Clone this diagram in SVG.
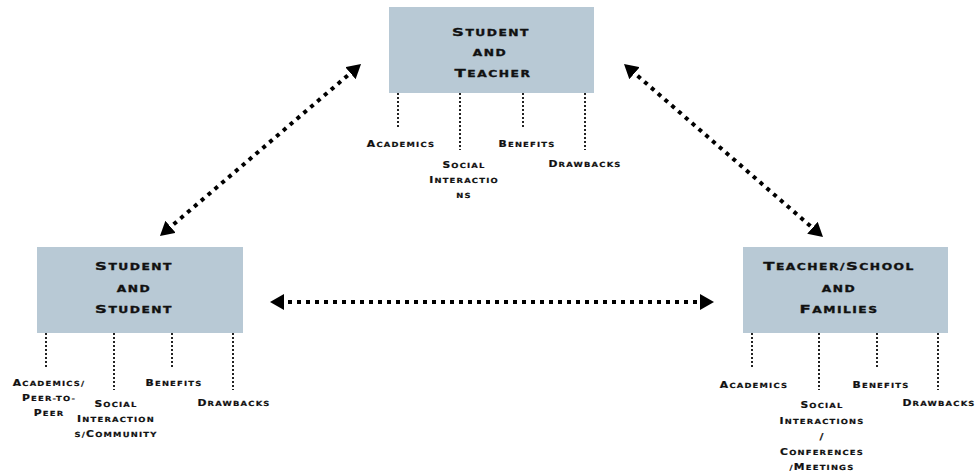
<svg xmlns="http://www.w3.org/2000/svg" width="976" height="471" viewBox="0 0 976 471">
  <defs>
    <marker id="head" viewBox="0 0 14 16" refX="5" refY="8" markerWidth="14" markerHeight="16" markerUnits="userSpaceOnUse" orient="auto-start-reverse">
      <path d="M0,0 L14,8 L0,16 z" fill="#000"/>
    </marker>
    <style>
      .box { fill: #b8c9d5; }
      .title, .label { font-family: "DejaVu Sans", "Liberation Sans", sans-serif; font-weight: bold; fill: #111; stroke: #111; text-anchor: middle; letter-spacing: 1px; }
      .title { font-size: 11px; stroke-width: 0.3px; }
      .title .s { font-size: 8.2px; text-transform: uppercase; }
      .label { font-size: 9px; stroke-width: 0.2px; }
      .label .s { font-size: 7px; text-transform: uppercase; }
      .stem { stroke: #222; stroke-width: 2; stroke-dasharray: 2 2; fill: none; }
      .link { stroke: #000; stroke-width: 4; stroke-dasharray: 4 5; fill: none; marker-start: url(#head); marker-end: url(#head); }
    </style>
  </defs>

  <!-- two-way relationships between the three parties -->
  <g id="connectors">
    <line class="link" x1="166.8" y1="230.1" x2="354.2" y2="69.9"/>
    <line class="link" x1="630.8" y1="69.9" x2="816.2" y2="231.1"/>
    <line class="link" x1="279" y1="302" x2="705" y2="302"/>
  </g>

  <!-- Student and Teacher (titles widened 1.5x, labels 1.2x) -->
  <g id="student-teacher">
    <rect class="box" x="389" y="7" width="205" height="86"/>
    <text class="title" transform="matrix(1.5 0 0 1 491 36)">S<tspan class="s">tudent</tspan></text>
    <text class="title" transform="matrix(1.5 0 0 1 490 56)"><tspan class="s">and</tspan></text>
    <text class="title" transform="matrix(1.5 0 0 1 493 77)">T<tspan class="s">eacher</tspan></text>
    <line class="stem" x1="398" y1="93" x2="398" y2="127"/>
    <line class="stem" x1="460" y1="93" x2="460" y2="150"/>
    <line class="stem" x1="523" y1="93" x2="523" y2="127"/>
    <line class="stem" x1="585" y1="93" x2="585" y2="150"/>
    <text class="label" transform="matrix(1.2 0 0 1 401 146.5)">A<tspan class="s">cademics</tspan></text>
    <text class="label" transform="matrix(1.2 0 0 1 464 167.5)">S<tspan class="s">ocial</tspan></text>
    <text class="label" transform="matrix(1.2 0 0 1 464 183)">I<tspan class="s">nteractio</tspan></text>
    <text class="label" transform="matrix(1.2 0 0 1 464 198)"><tspan class="s">ns</tspan></text>
    <text class="label" transform="matrix(1.2 0 0 1 527 146.5)">B<tspan class="s">enefits</tspan></text>
    <text class="label" transform="matrix(1.2 0 0 1 585 166.5)">D<tspan class="s">rawbacks</tspan></text>
  </g>

  <!-- Student and Student -->
  <g id="student-student">
    <rect class="box" x="37" y="247" width="206" height="86"/>
    <text class="title" transform="matrix(1.5 0 0 1 134 270)">S<tspan class="s">tudent</tspan></text>
    <text class="title" transform="matrix(1.5 0 0 1 134 292)"><tspan class="s">and</tspan></text>
    <text class="title" transform="matrix(1.5 0 0 1 134 313)">S<tspan class="s">tudent</tspan></text>
    <line class="stem" x1="46" y1="333" x2="46" y2="367"/>
    <line class="stem" x1="114" y1="333" x2="114" y2="390"/>
    <line class="stem" x1="172" y1="333" x2="172" y2="367"/>
    <line class="stem" x1="233" y1="333" x2="233" y2="390"/>
    <text class="label" transform="matrix(1.2 0 0 1 49 386)">A<tspan class="s">cademics/</tspan></text>
    <text class="label" transform="matrix(1.2 0 0 1 49 401)">P<tspan class="s">eer-to-</tspan></text>
    <text class="label" transform="matrix(1.2 0 0 1 49 416)">P<tspan class="s">eer</tspan></text>
    <text class="label" transform="matrix(1.2 0 0 1 116 407)">S<tspan class="s">ocial</tspan></text>
    <text class="label" transform="matrix(1.2 0 0 1 116 422)">I<tspan class="s">nteraction</tspan></text>
    <text class="label" transform="matrix(1.2 0 0 1 116 437)"><tspan class="s">s/</tspan>C<tspan class="s">ommunity</tspan></text>
    <text class="label" transform="matrix(1.2 0 0 1 174 386)">B<tspan class="s">enefits</tspan></text>
    <text class="label" transform="matrix(1.2 0 0 1 234 406)">D<tspan class="s">rawbacks</tspan></text>
  </g>

  <!-- Teacher/School and Families -->
  <g id="teacher-families">
    <rect class="box" x="743" y="247" width="205" height="86"/>
    <text class="title" transform="matrix(1.5 0 0 1 839 270)">T<tspan class="s">eacher/</tspan>S<tspan class="s">chool</tspan></text>
    <text class="title" transform="matrix(1.5 0 0 1 839 292)"><tspan class="s">and</tspan></text>
    <text class="title" transform="matrix(1.5 0 0 1 839 313)">F<tspan class="s">amilies</tspan></text>
    <line class="stem" x1="752" y1="333" x2="752" y2="367"/>
    <line class="stem" x1="819" y1="333" x2="819" y2="390"/>
    <line class="stem" x1="877" y1="333" x2="877" y2="367"/>
    <line class="stem" x1="938" y1="333" x2="938" y2="390"/>
    <text class="label" transform="matrix(1.2 0 0 1 754 388)">A<tspan class="s">cademics</tspan></text>
    <text class="label" transform="matrix(1.2 0 0 1 822 408)">S<tspan class="s">ocial</tspan></text>
    <text class="label" transform="matrix(1.2 0 0 1 822 424)">I<tspan class="s">nteractions</tspan></text>
    <text class="label" transform="matrix(1.2 0 0 1 822 440)">/</text>
    <text class="label" transform="matrix(1.2 0 0 1 822 455)">C<tspan class="s">onferences</tspan></text>
    <text class="label" transform="matrix(1.2 0 0 1 822 470)"><tspan class="s">/</tspan>M<tspan class="s">eetings</tspan></text>
    <text class="label" transform="matrix(1.2 0 0 1 881 388)">B<tspan class="s">enefits</tspan></text>
    <text class="label" transform="matrix(1.2 0 0 1 939 406)">D<tspan class="s">rawbacks</tspan></text>
  </g>
</svg>
